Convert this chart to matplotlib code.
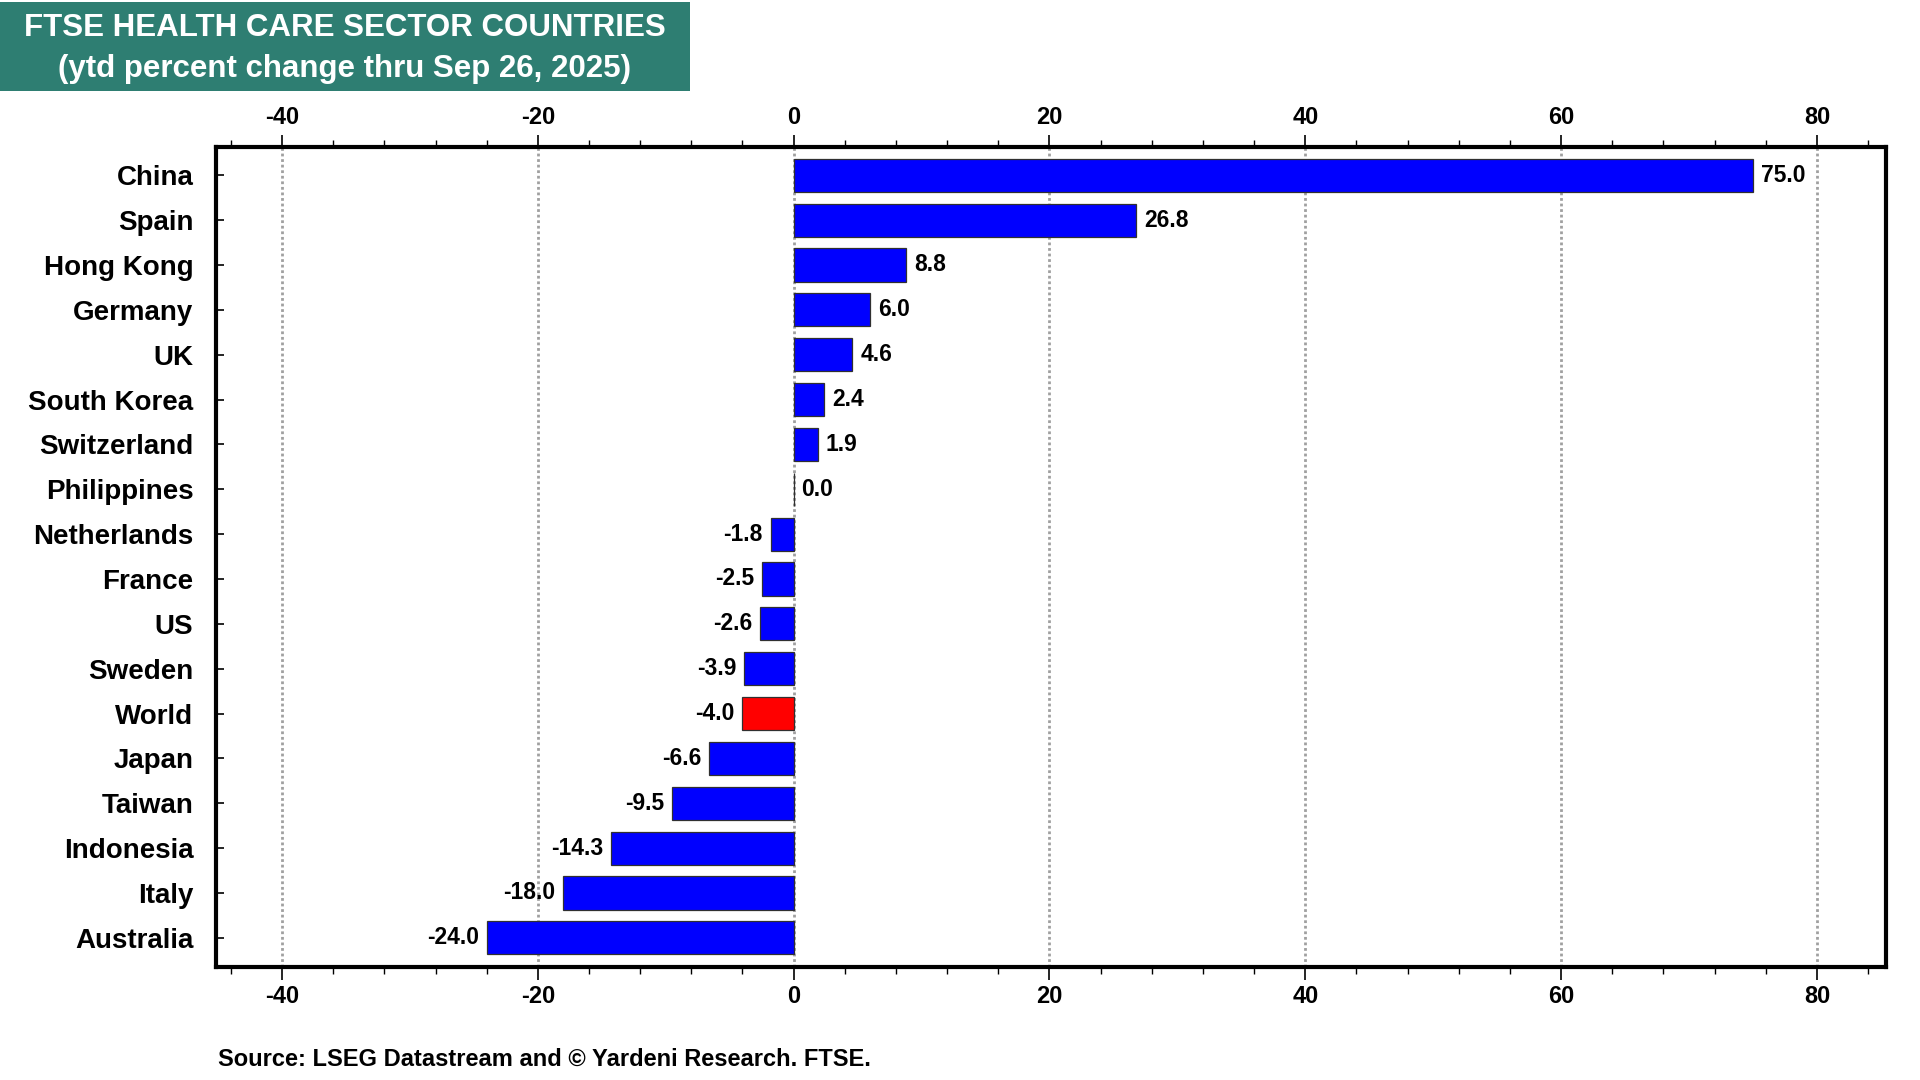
import matplotlib
matplotlib.use("Agg")
import matplotlib.pyplot as plt
import matplotlib.patches as patches
from matplotlib.ticker import MultipleLocator

plt.rcParams['font.family'] = ['Liberation Sans', 'DejaVu Sans']
plt.rcParams['font.weight'] = 'bold'
plt.rcParams['axes.unicode_minus'] = False

countries = ["China", "Spain", "Hong Kong", "Germany", "UK", "South Korea",
             "Switzerland", "Philippines", "Netherlands", "France", "US",
             "Sweden", "World", "Japan", "Taiwan", "Indonesia", "Italy",
             "Australia"]
values = [75.0, 26.8, 8.8, 6.0, 4.6, 2.4, 1.9, 0.0, -1.8, -2.5, -2.6,
          -3.9, -4.0, -6.6, -9.5, -14.3, -18.0, -24.0]
highlight = "World"

W, H = 1920, 1080
fig = plt.figure(figsize=(19.2, 10.8), dpi=100)
ax = fig.add_axes([215.5 / W, 1 - 967 / H, (1886 - 215.5) / W, (967 - 147) / H])

ypos = list(range(len(countries)))
colors = ['#FF0000' if c == highlight else '#0000FF' for c in countries]
ax.barh(ypos, values, height=0.74, color=colors, edgecolor='#303030', linewidth=0.9, zorder=3)

for y, v in zip(ypos, values):
    if v >= 0:
        ax.text(v + 0.6, y, f"{v:.1f}", va='center', ha='left', fontsize=16.5, zorder=4)
    else:
        ax.text(v - 0.6, y, f"{v:.1f}", va='center', ha='right', fontsize=16.5, zorder=4)

ax.set_xlim(-45.2, 85.4)
ax.set_ylim(len(countries) - 0.35, -0.63)
ax.set_yticks(ypos)
ax.set_yticklabels(countries, fontsize=20)

ax.xaxis.set_major_locator(MultipleLocator(20))
ax.xaxis.set_minor_locator(MultipleLocator(4))
ax.tick_params(axis='x', which='both', top=True, labeltop=True, direction='out', labelsize=17)
ax.tick_params(axis='x', which='major', length=9, width=1.2, pad=4)
ax.tick_params(axis='x', which='minor', length=5, width=1.0)
ax.tick_params(axis='y', which='major', direction='in', length=6, width=1.2, pad=16)
ax.xaxis.grid(True, which='major', linestyle=(0, (1, 1)), color='#A0A0A0', linewidth=2, zorder=0)

for s in ax.spines.values():
    s.set_linewidth(3)
    s.set_color('black')

# title box
fig.patches.append(patches.Rectangle((0, 1 - 91 / H), 690 / W, 89 / H, transform=fig.transFigure,
                                     facecolor='#2E7E72', edgecolor='none', zorder=0))
fig.text(345 / W, 1 - 28 / H, "FTSE HEALTH CARE SECTOR COUNTRIES",
         ha='center', va='center', fontsize=22.5, color='white')
fig.text(345 / W, 1 - 69 / H, "(ytd percent change thru Sep 26, 2025)",
         ha='center', va='center', fontsize=22.5, color='white')

fig.text(218 / W, 1 - 1059 / H, "Source: LSEG Datastream and \u00a9 Yardeni Research. FTSE.",
         ha='left', va='center', fontsize=17)

fig.savefig("out.png", dpi=100)
